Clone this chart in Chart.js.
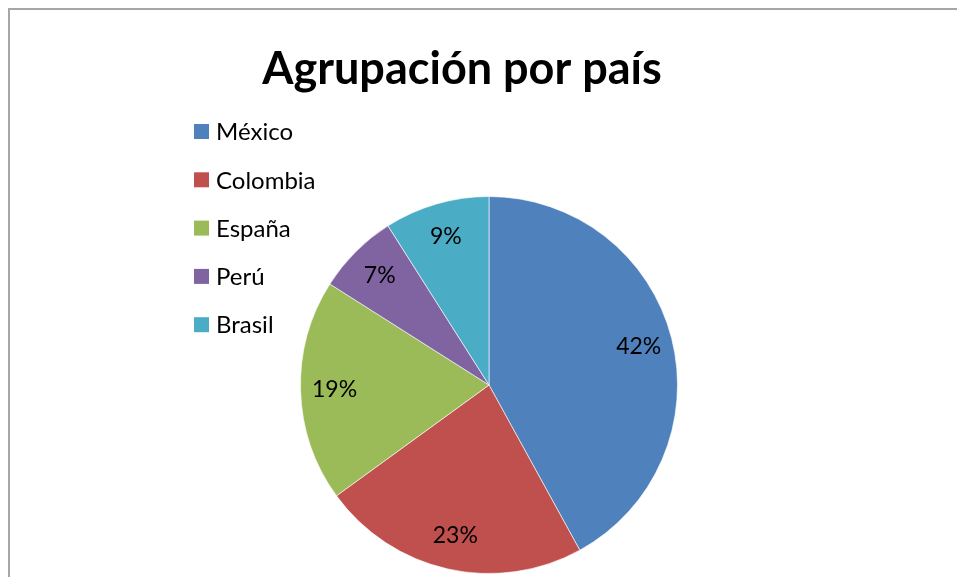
<!DOCTYPE html>
<html>
<head>
<meta charset="utf-8">
<script src="https://cdn.jsdelivr.net/npm/chart.js@4"></script>
<style>
  html, body { margin: 0; padding: 0; background: #fff; overflow: hidden; }
  #wrap { position: relative; width: 957px; height: 577px; }
  #frame {
    position: absolute; left: 8px; top: 8px; width: 1200px; height: 800px;
    border-left: 2px solid #a6a6a6; border-top: 2px solid #a6a6a6;
    pointer-events: none;
  }
</style>
</head>
<body>
<div id="wrap">
  <canvas id="chart" width="957" height="577"></canvas>
  <div id="frame"></div>
</div>
<script>
const chartTitle = "Agrupación por país";
const countries = ["México", "Colombia", "España", "Perú", "Brasil"];
const shares = [42, 23, 19, 7, 9];
const sliceColors = ["#4f81bd", "#c0504d", "#9bbb59", "#8064a2", "#4bacc6"];

const FONT = "Lato, 'Liberation Sans', sans-serif";

// title, legend and percentage labels are drawn by hand to match the excel look
const excelDecor = {
  id: "excelDecor",
  afterDatasetsDraw(chart) {
    const ctx = chart.ctx;
    const meta = chart.getDatasetMeta(0);
    const data = chart.data.datasets[0].data;
    const total = data.reduce((a, b) => a + b, 0);

    ctx.save();
    ctx.fillStyle = "#000";
    ctx.textAlign = "center";
    ctx.textBaseline = "middle";
    ctx.font = "23px " + FONT;
    meta.data.forEach((arc, i) => {
      const p = arc.getProps(["x", "y", "startAngle", "endAngle", "outerRadius"], true);
      const mid = (p.startAngle + p.endAngle) / 2;
      const r = p.outerRadius * 0.82;
      const pct = Math.round(data[i] / total * 100) + "%";
      ctx.fillText(pct, p.x + Math.cos(mid) * r, p.y + Math.sin(mid) * r);
    });

    // title
    ctx.font = "bold 45px " + FONT;
    ctx.textBaseline = "alphabetic";
    ctx.fillText(chartTitle, 462, 84);

    // legend
    ctx.textAlign = "left";
    ctx.textBaseline = "middle";
    ctx.font = "24px " + FONT;
    chart.data.labels.forEach((lab, i) => {
      const cy = 131.5 + i * 48.3;
      ctx.fillStyle = sliceColors[i];
      ctx.fillRect(194, cy - 7.5, 15, 15);
      ctx.fillStyle = "#000";
      ctx.fillText(lab, 216, cy + 1);
    });
    ctx.restore();
  }
};

new Chart(document.getElementById("chart").getContext("2d"), {
  type: "pie",
  data: {
    labels: countries,
    datasets: [
      {
        data: shares,
        backgroundColor: sliceColors,
        borderColor: "rgba(255,255,255,0.6)",
        borderWidth: 1
      }
    ]
  },
  options: {
    responsive: false,
    animation: false,
    events: [],
    layout: { padding: { left: 300, right: 279, top: 196, bottom: 3 } },
    plugins: {
      legend: { display: false },
      title: { display: false },
      tooltip: { enabled: false }
    }
  },
  plugins: [excelDecor]
});
</script>
</body>
</html>
